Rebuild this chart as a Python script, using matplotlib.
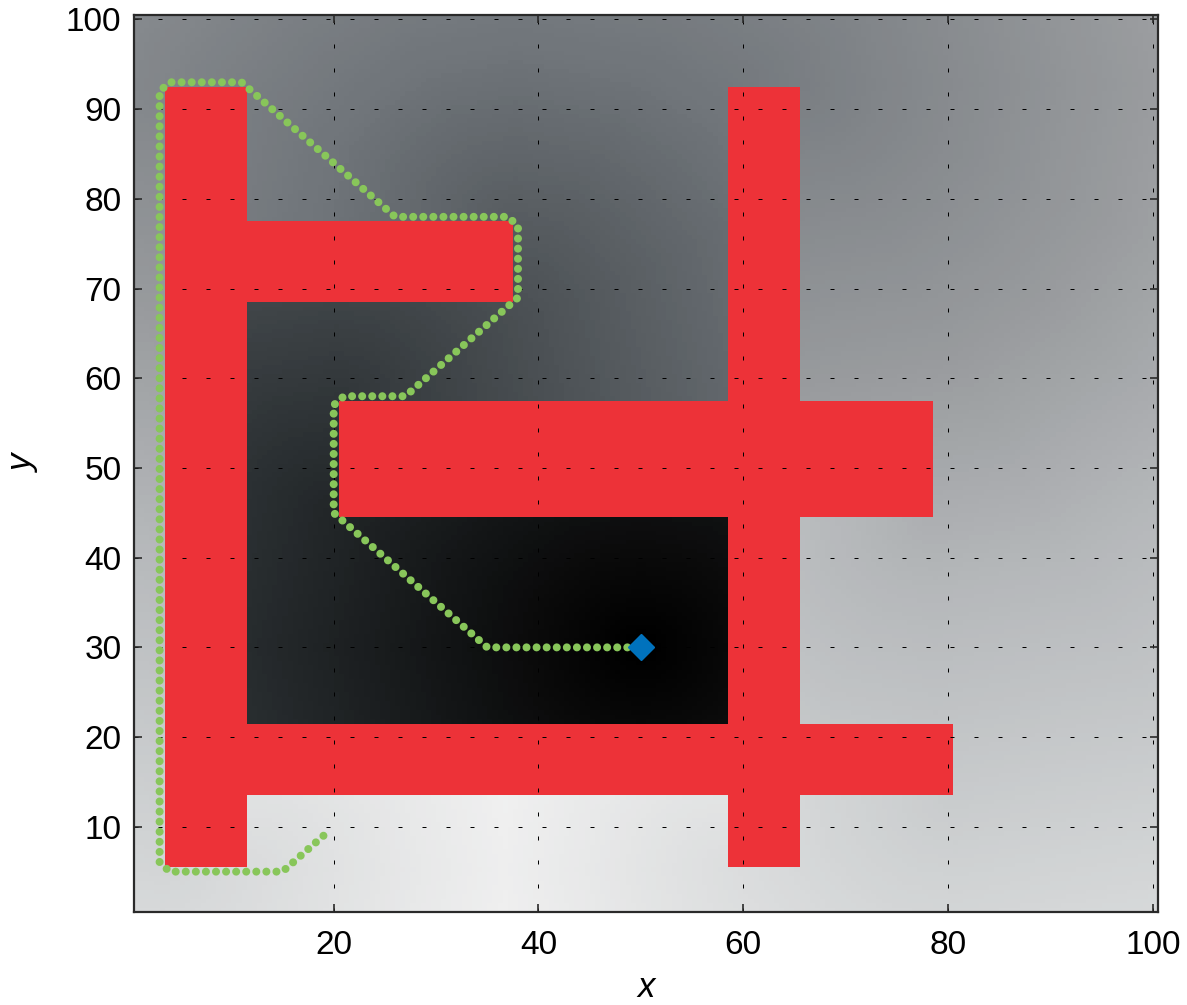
"""
Wavefront path-planning map: distance-to-goal shading, obstacles, planned path.
"""

import heapq
import numpy as np
import matplotlib
matplotlib.use('Agg')
import matplotlib.pyplot as plt
from matplotlib.patches import Rectangle
from matplotlib.colors import LinearSegmentedColormap, Normalize

plt.rcParams['font.family'] = ['Liberation Sans', 'DejaVu Sans']

# ---------------------------------------------------------------------------
# DATA
# ---------------------------------------------------------------------------

# obstacles (cell-aligned rectangles)
obst_x0 = [3.5, 11.5, 20.5, 3.5, 58.5]
obst_x1 = [11.5, 37.5, 78.5, 80.5, 65.5]
obst_y0 = [5.5, 68.5, 44.5, 13.5, 5.5]
obst_y1 = [92.5, 77.5, 57.5, 21.5, 92.5]

goal_x, goal_y = 50, 30

# planned path (grid waypoints, start -> goal)
path_x = [19, 15, 4, 3, 3, 4, 11, 26, 37, 38, 38, 37, 28, 27, 21, 20, 20, 21, 34, 35, 50]
path_y = [9, 5, 5, 6, 92, 93, 93, 78, 78, 77, 69, 68, 59, 58, 58, 57, 45, 44, 31, 30, 30]

x_ticks = [20, 40, 60, 80, 100]
y_ticks = [10, 20, 30, 40, 50, 60, 70, 80, 90, 100]

# ---------------------------------------------------------------------------
# WAVEFRONT (geodesic distance to goal around the obstacles)
# ---------------------------------------------------------------------------

RES = 0.5
LO, HI = 0.5, 100.5
n = int(round((HI - LO) / RES))
centres = LO + RES * (np.arange(n) + 0.5)
XX, YY = np.meshgrid(centres, centres)

free = np.ones((n, n), dtype=bool)
for x0, x1, y0, y1 in zip(obst_x0, obst_x1, obst_y0, obst_y1):
    free &= ~((XX > x0) & (XX < x1) & (YY > y0) & (YY < y1))

moves = []
for di in (-2, -1, 0, 1, 2):
    for dj in (-2, -1, 0, 1, 2):
        if (di, dj) == (0, 0):
            continue
        if abs(di) == 2 and abs(dj) in (0, 2):
            continue
        if abs(dj) == 2 and abs(di) == 0:
            continue
        moves.append((di, dj, RES * np.hypot(di, dj)))

dist = np.full((n, n), np.inf)
heap = []
gi = int((goal_y - LO) / RES)
gj = int((goal_x - LO) / RES)
for i in (gi - 1, gi):
    for j in (gj - 1, gj):
        d0 = np.hypot(centres[j] - goal_x, centres[i] - goal_y)
        dist[i, j] = d0
        heapq.heappush(heap, (d0, i, j))

while heap:
    d, i, j = heapq.heappop(heap)
    if d > dist[i, j]:
        continue
    for di, dj, c in moves:
        ni, nj = i + di, j + dj
        if not (0 <= ni < n and 0 <= nj < n) or not free[ni, nj]:
            continue
        if abs(di) == 2 or abs(dj) == 2:
            # knight move: both cells it crosses must be free
            hi_, hj_ = i + int(np.sign(di)), j + int(np.sign(dj))
            if not (free[i + di // 2 if abs(di) == 2 else i, j + dj // 2 if abs(dj) == 2 else j]
                    and free[hi_, hj_]):
                continue
        nd = d + c
        if nd < dist[ni, nj]:
            dist[ni, nj] = nd
            heapq.heappush(heap, (nd, ni, nj))

field = np.where(free, dist, np.nan)

# ---------------------------------------------------------------------------
# PLOT
# ---------------------------------------------------------------------------

DMAX = 240.0
bg_cmap = LinearSegmentedColormap.from_list('wavefront', [
    (0.0,        (0.00, 0.00, 0.00)),
    (8 / DMAX,   (0.03, 0.03, 0.03)),
    (40 / DMAX,  (0.16, 0.18, 0.19)),
    (95 / DMAX,  (0.44, 0.46, 0.48)),
    (140 / DMAX, (0.60, 0.61, 0.62)),
    (165 / DMAX, (0.71, 0.72, 0.73)),
    (196 / DMAX, (0.81, 0.82, 0.825)),
    (1.0,        (0.95, 0.95, 0.95)),
])
bg_cmap.set_bad((0, 0, 0, 0))

RED   = '#ed3238'
GREEN = '#88c65a'
BLUE  = '#0072bd'
DARK  = '#2a2a2a'

fig = plt.figure(figsize=(11.87, 10.05), dpi=100)
ax = fig.add_axes([134 / 1187, 93 / 1005, 1024 / 1187, 897 / 1005])

ax.imshow(field, origin='lower', extent=(LO, HI, LO, HI), cmap=bg_cmap,
          norm=Normalize(0, DMAX), interpolation='nearest', zorder=0,
          aspect='auto')

for x0, x1, y0, y1 in zip(obst_x0, obst_x1, obst_y0, obst_y1):
    ax.add_patch(Rectangle((x0, y0), x1 - x0, y1 - y0,
                           facecolor=RED, edgecolor='none', zorder=1))

ax.grid(True, color='black', lw=0.72, ls=(0, (4, 20)))
ax.set_axisbelow(False)

ax.plot(path_x, path_y, color=GREEN, lw=5.8, ls=(0, (0.001, 1.25)),
        dash_capstyle='round', solid_capstyle='round', zorder=4)
ax.plot([goal_x], [goal_y], marker='D', ms=13.5, color=BLUE, mec=BLUE,
        ls='none', zorder=5)

ax.set_xlim(LO, HI)
ax.set_ylim(LO, HI)
ax.set_xticks(x_ticks)
ax.set_yticks(y_ticks)
ax.tick_params(direction='in', length=6, width=1.2, color=DARK,
               labelsize=24, top=True, right=True, pad=9)
ax.tick_params(axis='x', pad=13)
for sp in ax.spines.values():
    sp.set_color(DARK)
    sp.set_linewidth(1.6)

ax.set_xlabel('x', fontsize=25, style='italic')
ax.set_ylabel('y', fontsize=25, style='italic')
ax.xaxis.set_label_coords(0.5, -0.066)
ax.yaxis.set_label_coords(-0.092, 0.5)

fig.savefig('out.png', dpi=100)
